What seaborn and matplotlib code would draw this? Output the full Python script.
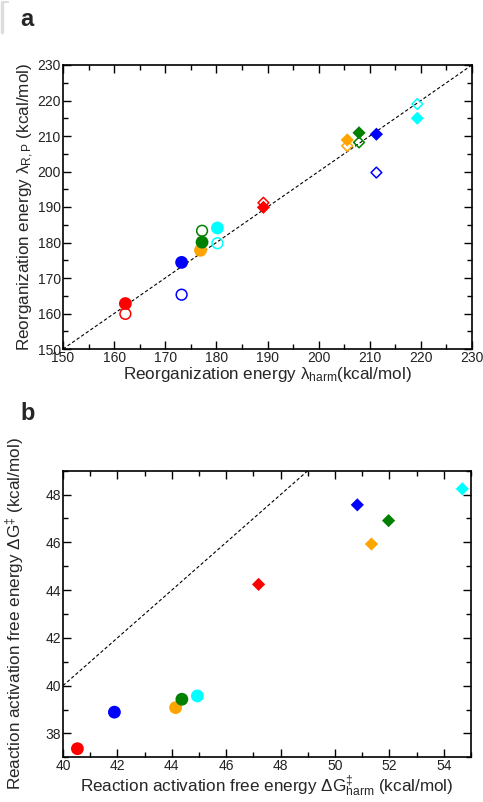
import numpy as np
import pandas as pd
import matplotlib
matplotlib.use("Agg")
import matplotlib.pyplot as plt
from matplotlib.lines import Line2D
from matplotlib.ticker import MultipleLocator
import seaborn as sns

# ---------------- data ----------------
colors = ["red", "blue", "orange", "green", "cyan"]
palette = {"red": "#ff0000", "blue": "#0000ff", "orange": "#ffa500",
           "green": "#008000", "cyan": "#00ffff"}

# panel a : reorganization energies
a_circ_harm = [162.2, 173.2, 176.9, 177.2, 180.2]
a_circ_filled = [162.8, 174.4, 177.8, 180.1, 184.1]
a_circ_open = [159.9, 165.3, 177.9, 183.3, 179.8]
a_diam_harm = [189.2, 211.3, 205.6, 207.9, 219.3]
a_diam_filled = [189.9, 210.5, 208.9, 210.9, 215.0]
a_diam_open = [191.2, 199.7, 207.2, 208.2, 219.0]

# panel b : activation free energies
b_circ_harm = [40.53, 41.89, 44.14, 44.37, 44.94]
b_circ_dg = [37.36, 38.89, 39.08, 39.43, 39.57]
b_diam_harm = [47.19, 50.82, 51.34, 51.97, 54.68]
b_diam_dg = [44.24, 47.57, 45.93, 46.91, 48.24]

a_ticks = list(range(150, 231, 10))
b_xticks = list(range(40, 55, 2))
b_yticks = list(range(38, 49, 2))

# ---------------- style ----------------
sns.set_theme(style="ticks")
plt.rcParams["font.family"] = ["Liberation Sans", "DejaVu Sans"]
plt.rcParams["mathtext.fontset"] = "custom"
plt.rcParams["mathtext.rm"] = "Liberation Sans"
plt.rcParams["mathtext.it"] = "Liberation Sans:italic"
plt.rcParams["mathtext.bf"] = "Liberation Sans:bold"

fig = plt.figure(figsize=(4.83, 8.02), dpi=100)
ax_a = fig.add_axes([63/483, 1-349/802, (472-63)/483, (349-65)/802])
ax_b = fig.add_axes([63/483, 1-757.3/802, (471-63)/483, (757.3-470.7)/802])


def make_df(xs, ys, shape):
    return pd.DataFrame({"x": xs, "y": ys, "c": colors, "shape": shape})


markers = {"circle": "o", "diamond": "D"}


def draw(ax, df, filled, s_circ, s_diam):
    for shp, s in (("circle", s_circ), ("diamond", s_diam)):
        sub = df[df["shape"] == shp]
        if sub.empty:
            continue
        sns.scatterplot(data=sub, x="x", y="y", hue="c", palette=palette,
                        marker=markers[shp], s=s, linewidth=1.1 if not filled else 0,
                        legend=False, ax=ax, zorder=3 if filled else 4)
        coll = ax.collections[-1]
        if not filled:
            fc = coll.get_facecolors()
            coll.set_edgecolors(fc)
            coll.set_facecolors("none")


# panel a
df_a_filled = pd.concat([make_df(a_circ_harm, a_circ_filled, "circle"),
                         make_df(a_diam_harm, a_diam_filled, "diamond")])
df_a_open = pd.concat([make_df(a_circ_harm, a_circ_open, "circle"),
                       make_df(a_diam_harm, a_diam_open, "diamond")])
# orange open circle hidden under filled one
df_a_open = df_a_open[~((df_a_open["c"] == "orange") & (df_a_open["shape"] == "circle"))]
ax_a.axline((150, 150), (230, 230), color="black", lw=0.8, ls=(0, (3, 2)), zorder=2)
draw(ax_a, df_a_open, False, 60, 30)
draw(ax_a, df_a_filled, True, 85, 45)

ax_a.set_xlim(150, 230)
ax_a.set_ylim(150, 230)
ax_a.set_xticks(a_ticks)
ax_a.set_yticks(a_ticks)
ax_a.xaxis.set_minor_locator(MultipleLocator(5))
ax_a.yaxis.set_minor_locator(MultipleLocator(5))
ax_a.set_xlabel(r"Reorganization energy λ$_{\mathrm{harm}}$(kcal/mol)", fontsize=12.3, labelpad=0)
ax_a.set_ylabel(r"Reorganization energy λ$_{\mathrm{R,P}}$ (kcal/mol)", fontsize=12.3, labelpad=1)

# panel b
df_b = pd.concat([make_df(b_circ_harm, b_circ_dg, "circle"),
                  make_df(b_diam_harm, b_diam_dg, "diamond")])
ax_b.axline((40, 40), (49, 49), color="black", lw=0.8, ls=(0, (3, 2)), zorder=2)
draw(ax_b, df_b, True, 85, 45)
ax_b.set_xlim(40, 55)
ax_b.set_ylim(37, 49)
ax_b.set_xticks(b_xticks)
ax_b.set_yticks(b_yticks)
ax_b.xaxis.set_minor_locator(MultipleLocator(1))
ax_b.yaxis.set_minor_locator(MultipleLocator(1))
ax_b.set_xlabel(r"Reaction activation free energy ΔG$^{‡}_{\mathrm{harm}}$ (kcal/mol)", fontsize=12.3, labelpad=0)
ax_b.set_ylabel(r"Reaction activation free energy ΔG$^{‡}$ (kcal/mol)", fontsize=12.3, labelpad=14)

for ax in (ax_a, ax_b):
    for sp in ax.spines.values():
        sp.set_visible(True)
        sp.set_linewidth(1.2)
        sp.set_color("black")
    ax.tick_params(which="both", direction="in", top=True, right=True,
                   color="black", width=1.0)
    ax.tick_params(which="major", length=6, labelsize=10, pad=1.5, labelcolor="#222222")
    ax.tick_params(which="minor", length=3.5)
    ax.grid(False)

fig.text(20/483, 1-26/802, "a", fontsize=17, fontweight="bold", va="baseline")
fig.text(20/483, 1-420/802, "b", fontsize=17, fontweight="bold", va="baseline")

# faint corner bracket at top-left
fig.add_artist(Line2D([1.5/483, 1.5/483], [1-3/802, 1-32/802], color="#dddddd", lw=2.5))
fig.add_artist(Line2D([1.5/483, 8/483], [1-2/802, 1-2/802], color="#dddddd", lw=1.5))

fig.savefig("out.png", dpi=100)
